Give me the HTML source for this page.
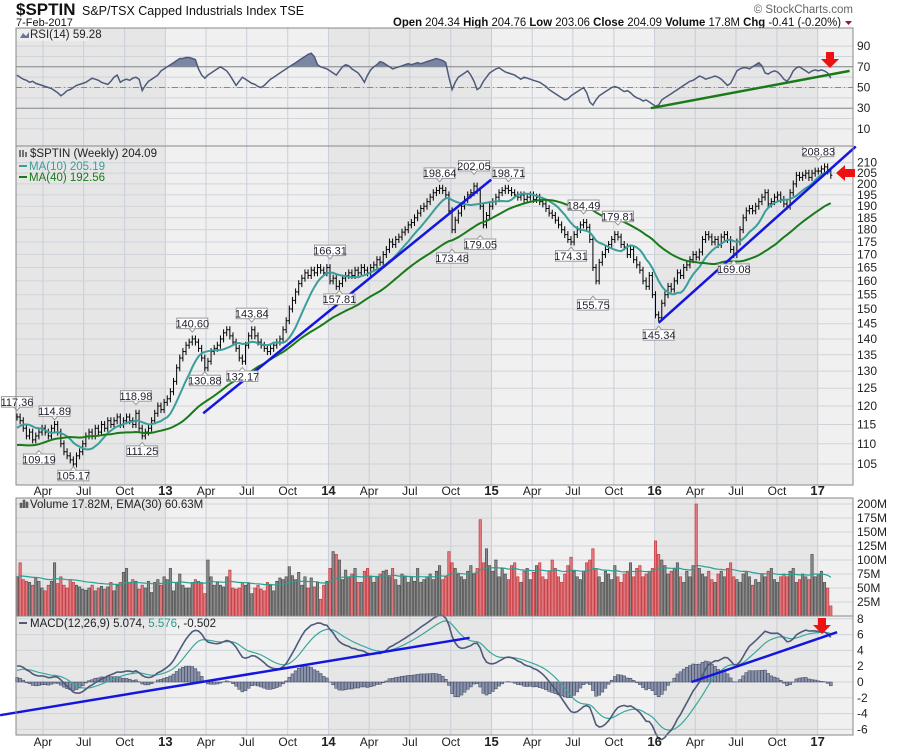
<!DOCTYPE html>
<html><head><meta charset="utf-8"><style>
body{margin:0;background:#fff;font-family:"Liberation Sans",sans-serif}
svg text{font-family:"Liberation Sans",sans-serif}
</style></head><body>
<svg id="c" width="900" height="750" xmlns="http://www.w3.org/2000/svg">
<text x="16" y="15" font-size="17" font-weight="bold" fill="#111">$SPTIN</text>
<text x="82" y="15" font-size="12.5" fill="#111">S&amp;P/TSX Capped Industrials Index  TSE</text>
<text x="16" y="26" font-size="11" fill="#111">7-Feb-2017</text>
<text x="853" y="13" font-size="11.5" fill="#666" text-anchor="end">© StockCharts.com</text>
<text x="393" y="26" font-size="11.5" fill="#111" textLength="448" lengthAdjust="spacingAndGlyphs"><tspan font-weight="bold">Open</tspan> 204.34  <tspan font-weight="bold">High</tspan> 204.76  <tspan font-weight="bold">Low</tspan> 203.06  <tspan font-weight="bold">Close</tspan> 204.09  <tspan font-weight="bold">Volume</tspan> 17.8M  <tspan font-weight="bold">Chg</tspan> -0.41 (-0.20%)</text>
<path d="M845 21 L852 21 L848.5 25 Z" fill="#8b1a2a"/>
<g id="g"></g>
</svg>
<script>
const pre=[112,114,116,115,113,110,108,106,104,102,100,103,106,108,106,104,102,104,107,109,110,108,106,108,110,112,111,109,110,112,113,111,110,112,114,115,116,114,115,117];
const close2012=[117,116,114,112,113,111,112,113,114,113,112,114,115,113,110,108,107,106,105,107,108,110,112,113,112,114,113,115,114,116,115,116,117,115,116,117,116,115,118,114,112,113,114,116,118,120,119,121];
const close2013=[122,124,127,131,134,136,138,139,140,139,137,134,131,133,136,137,138,140,142,143,141,139,137,134,133,138,141,143,141,139,138,137,136,137,138,139,140,143,146,150,153,156,159,161,163,162,164,163,165,164,163,165];
const close2014=[160,161,158,159,161,162,163,162,164,163,165,164,163,165,166,168,167,170,172,175,174,176,177,179,180,182,183,185,187,189,190,192,194,196,197,198,197,195,188,180,184,187,190,193,195,196,199,197,190,182,186,190];
const close2015=[192,194,196,197,198,197,196,195,194,195,193,194,195,193,194,192,191,189,187,186,184,182,180,178,176,175,178,180,182,183,181,176,165,160,167,170,172,174,176,178,177,174,173,170,172,168,166,164,160,158,162,155];
const close2016=[148,147,152,155,158,157,160,163,162,165,166,168,170,169,171,176,178,177,175,176,174,177,178,176,172,170,175,180,185,188,189,188,190,192,194,196,191,192,194,195,193,191,190,196,200,204,203,204,205,203,205,206];
const close2017=[206,207,208,206,204];
const rsiValues=[62,60,58,57,55,56,54,53,52,51,50,49,47,45,42,44,47,48,50,52,53,54,55,57,59,58,57,55,54,53,56,60,62,55,57,58,57,59,60,58,47,52,56,58,60,62,66,68,
70,72,74,76,78,78,79,79,78,77,68,62,59,62,64,66,68,70,68,66,62,57,52,56,60,58,56,54,53,51,50,52,55,58,60,62,64,66,68,70,72,74,76,78,80,82,83,80,72,70,69,68,
66,64,62,66,70,72,71,68,66,64,60,55,62,67,70,72,75,74,72,70,68,69,70,71,72,73,72,73,74,73,74,75,76,77,78,77,76,74,60,48,55,60,62,64,66,62,56,48,50,56,60,64,
66,68,69,67,65,64,63,62,60,58,60,59,58,57,56,55,53,51,48,46,44,42,40,38,39,42,44,46,48,50,45,36,33,38,42,44,46,48,50,51,50,48,46,47,45,42,40,39,37,38,36,34,
32,33,38,40,42,44,46,48,50,52,54,56,57,59,61,60,58,59,60,61,60,58,55,52,54,60,66,68,69,69,68,70,72,74,71,64,63,65,66,65,62,58,56,60,66,69,70,68,66,64,66,67,
66,67,66,64,59];
const vol=[70,95,65,62,60,55,68,62,50,45,55,62,95,58,70,55,50,65,60,55,52,48,46,50,55,45,50,53,48,52,60,45,55,60,78,85,60,65,62,48,55,50,62,42,60,65,55,70,
65,85,45,60,75,55,50,50,60,65,62,58,40,100,70,55,60,55,52,70,82,50,48,50,60,55,58,40,50,55,48,45,60,55,45,62,68,65,70,88,72,65,78,55,70,50,68,52,60,30,55,62,
85,115,110,100,65,82,70,75,85,60,60,80,85,70,60,70,75,80,82,70,85,65,55,75,70,60,70,62,85,60,65,70,75,65,80,90,65,70,115,95,85,75,70,65,80,90,75,85,172,95,120,90,
80,100,70,85,75,65,90,95,70,60,80,85,65,78,90,95,70,65,80,100,85,70,60,75,90,105,80,70,65,80,95,100,120,85,70,60,80,75,65,90,70,60,75,80,95,70,85,90,70,75,80,85,
134,110,100,90,75,80,85,95,70,60,80,70,90,200,85,75,70,80,65,60,75,80,70,85,95,70,65,60,75,80,70,55,65,60,75,70,80,85,65,60,70,75,70,80,85,60,65,75,70,65,110,70,
75,80,60,50,18];
const priceTicks=[105,110,115,120,125,130,135,140,145,150,155,160,165,170,175,180,185,190,195,200,205,210];
const rsiTicks=[90,70,50,30,10];
const volTicks=[25,50,75,100,125,150,175,200];
const macdTicks=[8,6,4,2,0,-2,-4,-6];
const monthLabels=["Apr","Jul","Oct","13","Apr","Jul","Oct","14","Apr","Jul","Oct","15","Apr","Jul","Oct","16","Apr","Jul","Oct","17"];
const monthWeeks=[8.3,21.3,34.4,47.4,60.4,73.4,86.5,99.5,112.5,125.5,138.6,151.6,164.6,177.6,190.7,203.7,216.7,229.7,242.8,255.8];
const priceLabels=[[117.36,0,1],[114.89,12,1],[109.19,7,0],[105.17,18,0],[118.98,38,1],[111.25,40,0],[140.60,56,1],[130.88,60,0],[143.84,75,1],[132.17,72,0],[166.31,100,1],[157.81,103,0],[198.64,135,1],[173.48,139,0],[202.05,146,1],[179.05,148,0],[198.71,157,1],[184.49,181,1],[174.31,177,0],[155.75,184,0],[179.81,192,1],[145.34,205,0],[169.08,229,0],[208.83,256,1]];
const trendPrice=[[59.5,118],[151.5,202]];
const trendPrice2=[[205,145.3],[268,218]];
const trendRsi=[[202.5,30],[266,66]];
const trendMacd=[[-5.4,-4.2],[144.6,5.6]];
const trendMacd2=[[215.5,0],[262,6.3]];

const closes=[].concat(close2012,close2013,close2014,close2015,close2016,close2017);
const all=pre.concat(closes);const P=pre.length;const N=closes.length;
const NS="http://www.w3.org/2000/svg";const G=document.getElementById('g');
function el(t,a,p){const e=document.createElementNS(NS,t);for(const k in a)e.setAttribute(k,a[k]);(p||G).appendChild(e);return e;}
const L=16,R=853;
const X=i=>17+i*3.13;
const PY=v=>162.7+434.7*Math.log(210/v);
const RY=v=>87.5-(v-50)*1.035;
const VY=v=>616-v*0.56;
const MY=v=>682-v*7.9;
const panels=[[28,146],[146,485],[498,616],[616,735]];
panels.forEach((p,pi)=>{
  const r=el('rect',{x:L,y:p[0],width:R-L,height:p[1]-p[0],fill:'#ececec'});
  
  
  const yrs=[[L,X(47.4),'#e6e6e6'],[X(47.4),X(99.5),'#f0f0f0'],[X(99.5),X(151.6),'#e6e6e6'],[X(151.6),X(203.7),'#f0f0f0'],[X(203.7),X(255.8),'#e6e6e6'],[X(255.8),R,'#f0f0f0']];
  yrs.forEach(b=>{const e=el('rect',{x:b[0],y:p[0],width:b[1]-b[0],height:p[1]-p[0],fill:b[2]});
  
  });
  monthWeeks.forEach(w=>el('line',{x1:X(w),x2:X(w),y1:p[0],y2:p[1],stroke:'#c8ced8','stroke-width':1}));
});
priceTicks.forEach(v=>{el('line',{x1:L,x2:R,y1:PY(v),y2:PY(v),stroke:'#cfd3da'});
 const t=el('text',{x:857,y:PY(v)+4,'font-size':12,fill:'#222'});t.textContent=v;
 
 });
for(let v=10;v<=90;v+=10){el('line',{x1:L,x2:R,y1:RY(v),y2:RY(v),stroke:'#cfd3da'});}
el('line',{x1:L,x2:R,y1:RY(70),y2:RY(70),stroke:'#888'});
el('line',{x1:L,x2:R,y1:RY(30),y2:RY(30),stroke:'#888'});
el('line',{x1:L,x2:R,y1:RY(50),y2:RY(50),stroke:'#888','stroke-dasharray':'6,3,1,3'});
rsiTicks.forEach(v=>{const t=el('text',{x:857,y:RY(v)+4,'font-size':12,fill:'#222'});t.textContent=v;
 
 });
volTicks.forEach(v=>{el('line',{x1:L,x2:R,y1:VY(v),y2:VY(v),stroke:'#cfd3da'});
 const t=el('text',{x:857,y:VY(v)+4,'font-size':12,fill:'#222'});t.textContent=v+'M';
 
 });
macdTicks.forEach(v=>{el('line',{x1:L,x2:R,y1:MY(v),y2:MY(v),stroke:'#cfd3da'});
 const t=el('text',{x:857,y:MY(v)+4,'font-size':12,fill:'#222'});t.textContent=v;
 
 });
function sma(a,n,i){let s=0,c=0;for(let k=Math.max(0,i-n+1);k<=i;k++){s+=a[k];c++;}return s/c;}
function ema(a,n){const k=2/(n+1);const o=[a[0]];for(let i=1;i<a.length;i++)o.push(a[i]*k+o[i-1]*(1-k));return o;}
const e12=ema(all,12),e26=ema(all,26);const macd=all.map((v,i)=>e12[i]-e26[i]);const sig=ema(macd,9);
const vema=ema(vol,30);
function line(pts,attrs,name){const e=el('polyline',Object.assign({points:pts.map(p=>p[0].toFixed(1)+','+p[1].toFixed(1)).join(' '),fill:'none'},attrs));
 
 return e;}
// RSI
const clipR=el('clipPath',{id:'cr'});el('rect',{x:L,y:28,width:R-L,height:118},clipR);
const rsiPts=rsiValues.map((v,i)=>[X(i),RY(v)]);
const gR=el('g',{'clip-path':'url(#cr)'});
const cpA=el('clipPath',{id:'ca'});el('rect',{x:L,y:0,width:R-L,height:RY(70)},cpA);
const cpB=el('clipPath',{id:'cb'});el('rect',{x:L,y:RY(30),width:R-L,height:100},cpB);
const fa=el('polygon',{points:rsiPts.map(p=>p.join(',')).join(' ')+` ${X(rsiValues.length-1)},${RY(70)} ${X(0)},${RY(70)}`,fill:'#7a86a2','clip-path':'url(#ca)'},gR);


const fb=el('polygon',{points:rsiPts.map(p=>p.join(',')).join(' ')+` ${X(rsiValues.length-1)},${RY(30)} ${X(0)},${RY(30)}`,fill:'#7a86a2','clip-path':'url(#cb)'},gR);


G.appendChild(line(rsiPts,{stroke:'#4d5a7a','stroke-width':1.5},'rsi-line'));
line(trendRsi.map(p=>[X(p[0]),RY(p[1])]),{stroke:'#1a7a1a','stroke-width':2.5},'rsi-trendline');
// price bars
closes.forEach((c,i)=>{const o=all[i+P-1];const h=Math.max(o,c)*1.008,l=Math.min(o,c)*0.992;const x=X(i);
 const g=el('g',{stroke:'#000','stroke-width':1});
 
 
 el('line',{x1:x,x2:x,y1:PY(h),y2:PY(l)},g);el('line',{x1:x-1.5,x2:x,y1:PY(o),y2:PY(o)},g);el('line',{x1:x,x2:x+1.5,y1:PY(c),y2:PY(c)},g);});
line(closes.map((c,i)=>[X(i),PY(sma(all,10,i+P))]),{stroke:'#3a9e9a','stroke-width':2},'ma10-line');
line(closes.map((c,i)=>[X(i),PY(sma(all,40,i+P))]),{stroke:'#1a7a1a','stroke-width':2},'ma40-line');
line(trendPrice.map(p=>[X(p[0]),PY(p[1])]),{stroke:'#1515e0','stroke-width':2.5},'price-trendline-1');
line(trendPrice2.map(p=>[X(p[0]),PY(p[1])]),{stroke:'#1515e0','stroke-width':2.5},'price-trendline-2');
priceLabels.forEach(pl=>{const x=X(pl[1]);const up=pl[2];const yv=PY(pl[0]);const by=up?yv-19:yv+7;
 const g=el('g',{});
 
 
 el('rect',{x:x-15.5,y:by,width:31,height:10.5,fill:'#fff',stroke:'#999'},g);
 el('path',{d:up?`M${x-3} ${by+10.5} L${x} ${by+14} L${x+3} ${by+10.5}`:`M${x-3} ${by} L${x} ${by-3.5} L${x+3} ${by}`,fill:'#fff',stroke:'#999'},g);
 const t=el('text',{x:x,y:by+9.3,'font-size':11,'text-anchor':'middle',fill:'#223'},g);t.textContent=pl[0].toFixed(2);});
// volume
vol.forEach((v,i)=>{const dn=all[i+P]<all[i+P-1];const r=el('rect',{x:X(i)-1.2,y:VY(v),width:2.4,height:616-VY(v),fill:dn?'#e07a80':'#8a8a8a',stroke:dn?'#c02a30':'#444','stroke-width':0.6});
 
 });
line(vol.map((v,i)=>[X(i),VY(vema[i])]),{stroke:'#2aa090','stroke-width':1.2},'volume-ema-line');
// MACD
closes.forEach((c,i)=>{const h=macd[i+P]-sig[i+P];const r=el('rect',{x:X(i)-1.5,y:Math.min(MY(h),MY(0)),width:3,height:Math.abs(MY(h)-MY(0)),fill:'#8a92aa',stroke:'#3d4560','stroke-width':0.5});
 
 });
line(closes.map((c,i)=>[X(i),MY(sig[i+P])]),{stroke:'#3aa89c','stroke-width':1.2},'macd-signal-line');
line(closes.map((c,i)=>[X(i),MY(macd[i+P])]),{stroke:'#4d5a7a','stroke-width':1.6},'macd-line');
line(trendMacd.map(p=>[X(p[0]),MY(p[1])]),{stroke:'#1515e0','stroke-width':2.5},'macd-trendline-1');
line(trendMacd2.map(p=>[X(p[0]),MY(p[1])]),{stroke:'#1515e0','stroke-width':2.5},'macd-trendline-2');
panels.forEach(p=>{const r=el('rect',{x:L,y:p[0],width:R-L,height:p[1]-p[0],fill:'none',stroke:'#888'});
 
 });
[492,743].forEach(y=>monthWeeks.forEach((w,k)=>{const yr=/^\d/.test(monthLabels[k]);const t=el('text',{x:X(w),y:y+3,'font-size':yr?13:12,'font-weight':yr?'bold':'normal','text-anchor':'middle',fill:'#222'});t.textContent=monthLabels[k];
 
 }));
function txt(x,y,s,c,n){const t=el('text',{x:x,y:y,'font-size':11.5,fill:c});t.textContent=s;
 
 }
el('rect',{x:17,y:29,width:72,height:12,fill:'#f0f0f0',opacity:0.8});
el('path',{d:'M20 38 L23 33 L26 36 L29 32 L29 38 Z',fill:'#6a7694'});
txt(30,38,'RSI(14) 59.28','#222','rsi-legend');
txt(30,157,'$SPTIN (Weekly) 204.09','#222','price-legend');
el('path',{d:'M20 150 v7 M23 150 v7 M26 152 v5',stroke:'#000'});
el('line',{x1:19,x2:27,y1:166,y2:166,stroke:'#3a9e9a','stroke-width':2});
txt(29,170,'MA(10) 205.19','#3a9e9a','ma10-legend');
el('line',{x1:19,x2:27,y1:177,y2:177,stroke:'#1a7a1a','stroke-width':2});
txt(29,181,'MA(40) 192.56','#1a7a1a','ma40-legend');
el('path',{d:'M20 508 v-5 h2 v5 M23 508 v-8 h2 v8 M26 508 v-6 h2 v6',fill:'#666',stroke:'#444','stroke-width':0.5});
txt(30,508,'Volume 17.82M, EMA(30) 60.63M','#222','volume-legend');
el('line',{x1:19,x2:27,y1:623,y2:623,stroke:'#4d5a7a','stroke-width':2});
const mt=el('text',{x:30,y:627,'font-size':11.5,fill:'#222'});


mt.innerHTML='MACD(12,26,9) 5.074, <tspan fill="#2a9a8c">5.576</tspan>, -0.502';
function arrowDown(x,y,n){const a=el('path',{d:`M${x-4} ${y} h8 v7 h5 l-9 9 l-9 -9 h5 Z`,fill:'#ee1111'});
 
 }
arrowDown(830,52,'rsi-red-arrow');arrowDown(822,618,'macd-red-arrow');
const la=el('path',{d:'M836 173 l9 -8 v4 h10 v8 h-10 v4 Z',fill:'#ee1111'});


</script>
</body></html>
